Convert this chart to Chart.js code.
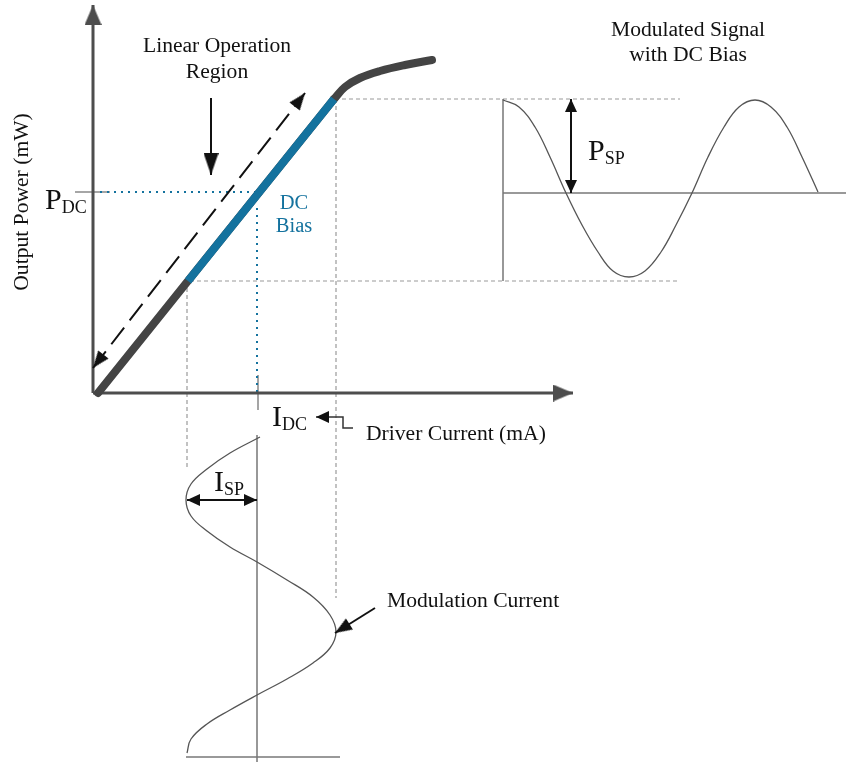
<!DOCTYPE html>
<html>
<head>
<meta charset="utf-8">
<title>Laser Diode Modulation</title>
<script src="https://cdn.jsdelivr.net/npm/chart.js@4.4.1/dist/chart.umd.min.js"></script>
<style>
  html, body { margin: 0; padding: 0; background: #fff; }
  #wrap { width: 846px; height: 763px; position: relative; }
</style>
</head>
<body>
<div id="wrap"><canvas id="laserChart"></canvas></div>
<script>
// diagram units: x = driver current, y = output power, origin at the corner of the axes
const axisCurrentEnd = 480;
const axisPowerEnd = 388;

// L-I curve of the laser
const liCurrent = [5, 241];
const liPower = [0, 294];
const kneeCurrent = [241, 252, 267, 287, 312, 339];
const kneePower = [294, 306, 315, 322, 328, 333];

// bias point and the swing around it
const biasCurrent = 165;   // I_DC
const biasPower = 201;     // P_DC
const lowCurrent = 95;
const highCurrent = 243;
const lowPower = 112;
const highPower = 294;

// modulated output, drawn to the right (x runs as time)
const signalTime = [410, 426, 442, 457, 473, 489, 505, 520, 536, 552, 568,
  583, 599, 615, 631, 646, 662, 678, 694, 709, 725];
const signalPower = [293, 286, 266, 236, 200, 168, 141, 122, 116, 122, 141,
  168, 200, 236, 266, 286, 293, 286, 266, 236, 201];
const signalStart = 410;
const signalEnd = 753;
const guideEnd = 587;

// modulation current, drawn under the axis (y runs as time, downwards)
const modTime = [-44, -60, -76, -91, -107, -123, -138, -154, -169, -187, -204,
  -222, -239, -255, -270, -286, -302, -317, -331, -346, -360];
const modCurrent = [167, 137, 114, 98, 93, 98, 114, 137, 164, 194, 220,
  237, 243, 237, 220, 194, 164, 137, 114, 98, 94];
const modTop = -42;
const modBottom = -369;
const modBase = -364;

const ink = '#111';
const axisGrey = '#4d4d4d';
const laserGrey = '#444';
const guideGrey = '#9a9a9a';
const waveGrey = '#555';
const biasBlue = '#14729e';
const serif = '"Liberation Serif", "Times New Roman", serif';

const notes = [
  { text: 'Linear Operation', x: 124, y: 341, align: 'center' },
  { text: 'Region', x: 124, y: 315, align: 'center' },
  { text: 'Modulated Signal', x: 595, y: 357, align: 'center' },
  { text: 'with DC Bias', x: 595, y: 332, align: 'center' },
  { text: 'Output Power (mW)', x: -71, y: 191, rotate: true },
  { text: 'DC', x: 201, y: 184, align: 'center', color: biasBlue, size: 20.5 },
  { text: 'Bias', x: 201, y: 161, align: 'center', color: biasBlue, size: 20.5 },
  { text: 'P', sub: 'DC', x: -48, y: 184, size: 30 },
  { text: 'I', sub: 'DC', x: 179, y: -33, size: 30 },
  { text: 'P', sub: 'SP', x: 495, y: 233, size: 30 },
  { text: 'I', sub: 'SP', x: 121, y: -98, size: 30 },
  { text: 'Driver Current (mA)', x: 273, y: -47 },
  { text: 'Modulation Current', x: 294, y: -214 }
];

function pts(xs, ys) {
  return xs.map((v, i) => ({ x: v, y: ys[i] }));
}

function arrowHead(len, width, color) {
  // tip sits at the centre of the canvas, so the point lands on the line end
  const c = document.createElement('canvas');
  c.width = Math.ceil(width);
  c.height = Math.ceil(len * 2);
  const g = c.getContext('2d');
  g.fillStyle = color;
  g.beginPath();
  g.moveTo(c.width / 2, len);
  g.lineTo(c.width, len * 2);
  g.lineTo(0, len * 2);
  g.closePath();
  g.fill();
  return c;
}

function headAngle(ctx) {
  const d = ctx.dataset.data;
  const i = ctx.dataIndex;
  const j = i === 0 ? 1 : i - 1;
  const sx = ctx.chart.scales.x;
  const sy = ctx.chart.scales.y;
  const dx = sx.getPixelForValue(d[i].x) - sx.getPixelForValue(d[j].x);
  const dy = sy.getPixelForValue(d[i].y) - sy.getPixelForValue(d[j].y);
  return Math.atan2(dx, -dy) * 180 / Math.PI;
}

function line(data, color, width, extra) {
  return Object.assign({
    data: data,
    showLine: true,
    borderColor: color,
    backgroundColor: color,
    borderWidth: width,
    pointRadius: 0,
    fill: false,
    tension: 0,
    clip: false
  }, extra || {});
}

function arrow(data, color, width, head, ends, extra) {
  const last = data.length - 1;
  return line(data, color, width, Object.assign({
    pointStyle: head,
    pointRadius: (ctx) => {
      const i = ctx.dataIndex;
      if (i === last && ends !== 'start') return 4;
      if (i === 0 && ends !== 'end') return 4;
      return 0;
    },
    pointRotation: headAngle
  }, extra || {}));
}

const axisHead = arrowHead(20, 17, axisGrey);
const bigHead = arrowHead(22, 15, ink);
const midHead = arrowHead(17, 13, ink);
const smallHead = arrowHead(13, 12, ink);

// listed bottom to top
const datasets = [
  // guides
  line(pts([highCurrent - 1, guideEnd], [highPower, highPower]), guideGrey, 1.2, { borderDash: [4, 3] }),
  line(pts([lowCurrent + 2, guideEnd], [lowPower, lowPower]), guideGrey, 1.2, { borderDash: [4, 3] }),
  line(pts([highCurrent, highCurrent], [highPower, -205]), guideGrey, 1.2, { borderDash: [4, 3] }),
  line(pts([lowCurrent - 1, lowCurrent - 1], [lowPower, -75]), guideGrey, 1.2, { borderDash: [4, 3] }),
  line(pts([-18, 17], [biasPower, biasPower]), '#888', 1.5),
  line(pts([biasCurrent, biasCurrent], [18, -17]), '#888', 1.5),
  line(pts([7, biasCurrent - 3], [biasPower, biasPower]), biasBlue, 2, { borderDash: [2, 5] }),
  line(pts([biasCurrent - 1, biasCurrent - 1], [biasPower - 16, 0]), biasBlue, 2, { borderDash: [2, 5] }),

  // modulated output
  line(pts([signalStart, signalStart], [highPower, lowPower]), '#777', 1.5),
  line(pts([signalStart, signalEnd], [biasPower - 1, biasPower - 1]), '#777', 1.5),
  line(pts(signalTime, signalPower), waveGrey, 1.3, { tension: 0.4 }),

  // modulation current
  line(pts([biasCurrent - 1, biasCurrent - 1], [modTop, modBottom]), '#777', 1.5),
  line(pts([lowCurrent - 2, highCurrent + 4], [modBase, modBase]), '#777', 1.5),
  line(pts(modCurrent, modTime), waveGrey, 1.3, { tension: 0.4 }),

  // axes
  arrow(pts([0, 0], [0, axisPowerEnd]), axisGrey, 3, axisHead, 'end'),
  arrow(pts([0, axisCurrentEnd], [0, 0]), axisGrey, 3, axisHead, 'end'),

  // L-I curve, bias segment on top
  line(pts(liCurrent, liPower), laserGrey, 8, { borderCapStyle: 'round' }),
  line(pts(kneeCurrent, kneePower), laserGrey, 8, { borderCapStyle: 'round', tension: 0.4 }),
  line(pts([lowCurrent, liCurrent[1]], [lowPower, liPower[1]]), biasBlue, 8),

  // pointers
  arrow(pts([0, 212], [25, 300]), ink, 2, midHead, 'both', { borderDash: [21, 9] }),
  arrow(pts([118, 118], [295, 218]), ink, 2, bigHead, 'end'),
  arrow(pts([478, 478], [highPower, biasPower - 1]), ink, 2, smallHead, 'both'),
  arrow(pts([lowCurrent - 1, biasCurrent - 1], [-107, -107]), ink, 2, smallHead, 'both'),
  arrow(pts([260, 250, 250, 223], [-35, -35, -24, -24]), '#333', 1.5, smallHead, 'end'),
  arrow(pts([282, 242], [-215, -240]), ink, 2, midHead, 'end')
];
datasets.forEach((d, i) => { d.order = datasets.length - i; });

const notesPlugin = {
  id: 'notes',
  afterDatasetsDraw(chart) {
    const { ctx, scales: { x, y } } = chart;
    ctx.save();
    ctx.textBaseline = 'alphabetic';
    notes.forEach((n) => {
      const px = x.getPixelForValue(n.x);
      const py = y.getPixelForValue(n.y);
      const size = n.size || 21.6;
      ctx.fillStyle = n.color || ink;
      ctx.font = `${size}px ${serif}`;
      if (n.rotate) {
        ctx.save();
        ctx.translate(px, py);
        ctx.rotate(-Math.PI / 2);
        ctx.textAlign = 'center';
        ctx.textBaseline = 'middle';
        ctx.fillText(n.text, 0, 0);
        ctx.restore();
        return;
      }
      ctx.textAlign = n.align || 'left';
      ctx.fillText(n.text, px, py);
      if (n.sub) {
        const w = ctx.measureText(n.text).width;
        ctx.font = `${Math.round(size * 0.6)}px ${serif}`;
        ctx.textAlign = 'left';
        ctx.fillText(n.sub, px + w, py + 4);
      }
    });
    ctx.restore();
  }
};

new Chart(document.getElementById('laserChart'), {
  type: 'scatter',
  data: { datasets: datasets },
  options: {
    responsive: true,
    maintainAspectRatio: false,
    animation: false,
    events: [],
    layout: { padding: 0, autoPadding: false },
    plugins: {
      legend: { display: false },
      tooltip: { enabled: false }
    },
    scales: {
      x: { type: 'linear', min: -93, max: 753, display: false },
      y: { type: 'linear', min: -370, max: 393, display: false }
    }
  },
  plugins: [notesPlugin]
});
</script>
</body>
</html>
